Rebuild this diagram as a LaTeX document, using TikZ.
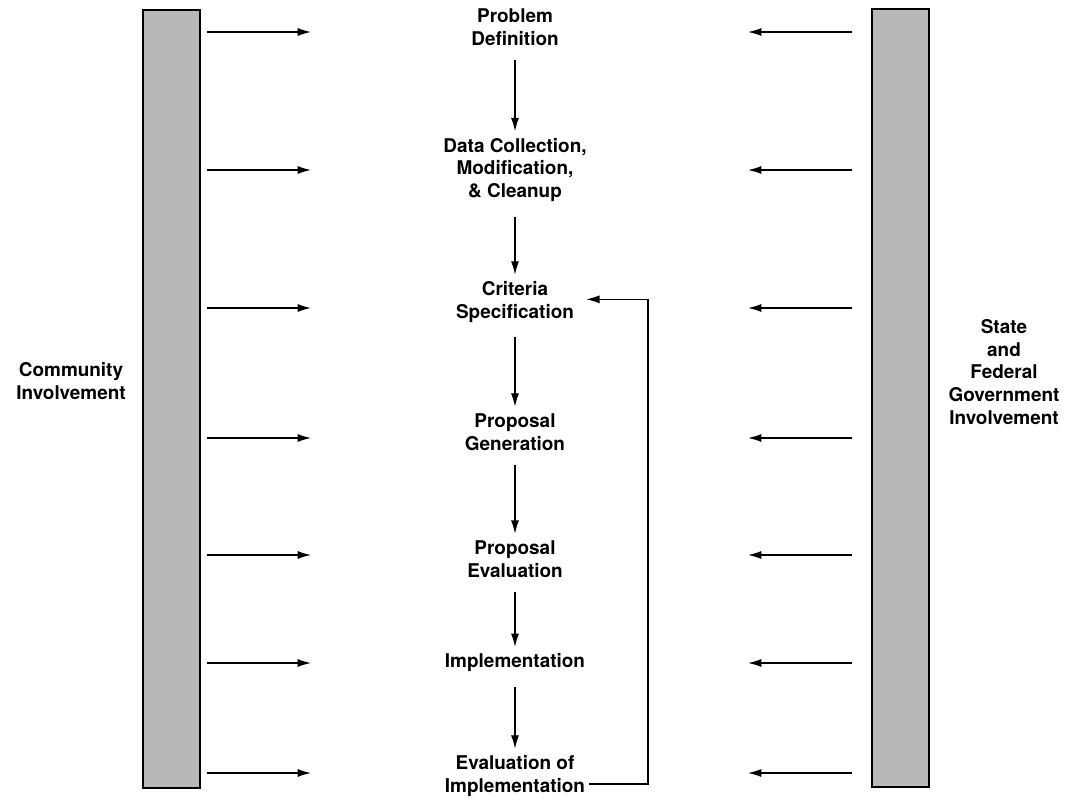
\documentclass[tikz,border=0pt]{standalone}
\usepackage{fontspec}
\setmainfont{TeX Gyre Heros}
\usetikzlibrary{arrows,arrows.meta,positioning,calc}
\tikzstyle{stepnode}=[font=\fontsize{14.2}{17}\selectfont\bfseries,align=center,inner sep=3pt]
\tikzstyle{sidelabel}=[font=\fontsize{14.2}{17}\selectfont\bfseries,align=center]
\tikzstyle{bar}=[draw,line width=1.5pt,fill=black!28,minimum width=43pt,minimum height=583pt,inner sep=0pt]
\tikzstyle{arrowline}=[-{Latex[length=10pt,width=6pt]},line width=0.9pt]
\tikzstyle{flow}=[arrowline,shorten <=8pt,shorten >=2pt]

\begin{document}
\begin{tikzpicture}[x=0.75pt,y=-0.75pt]
\useasboundingbox (0,0) rectangle (1070,799);
% side bars
\node [bar] (lbar) at (171.5,399) {};
\node [bar] (rbar) at (900.5,398) {};
\node [sidelabel] (community) at (71,381) {Community\\Involvement};
\node [sidelabel] (government) at (1004,372) {State\\and\\Federal\\Government\\Involvement};
% planning steps
\node [stepnode] (problem) at (515,27) {Problem\\Definition};
\node [stepnode] (data) at (515,170) {Data Collection,\\Modification,\\\& Cleanup};
\node [stepnode] (criteria) at (515,302) {Criteria\\Specification};
\node [stepnode] (generation) at (515,432) {Proposal\\Generation};
\node [stepnode] (evaluation) at (515,559) {Proposal\\Evaluation};
\node [stepnode] (implement) at (515,663) {Implementation};
\node [stepnode] (evalimpl) at (515,776) {Evaluation of\\Implementation};
\draw [flow] (problem) -- (data);
\draw [flow] (data) -- (criteria);
\draw [flow] (criteria) -- (generation);
\draw [flow] (generation) -- (evaluation);
\draw [flow] (evaluation) -- (implement);
\draw [flow] (implement) -- (evalimpl);
% feedback loop
\coordinate (loopout) at ($(evalimpl.east)+(0,8)$);
\coordinate (loopcorner) at (648,0);
\draw [arrowline] (loopout) -- (loopout -| loopcorner) |- ([xshift=6pt,yshift=2pt]criteria.east);
% involvement arrows
\foreach \y [count=\i] in {32,170,308,438,555,663,773} {
  \coordinate (lfrom\i) at (207,\y);
  \coordinate (lto\i) at (311,\y);
  \coordinate (rfrom\i) at (852,\y);
  \coordinate (rto\i) at (748,\y);
  \draw [arrowline] (lfrom\i) -- (lto\i);
  \draw [arrowline] (rfrom\i) -- (rto\i);
}
\end{tikzpicture}
\end{document}
